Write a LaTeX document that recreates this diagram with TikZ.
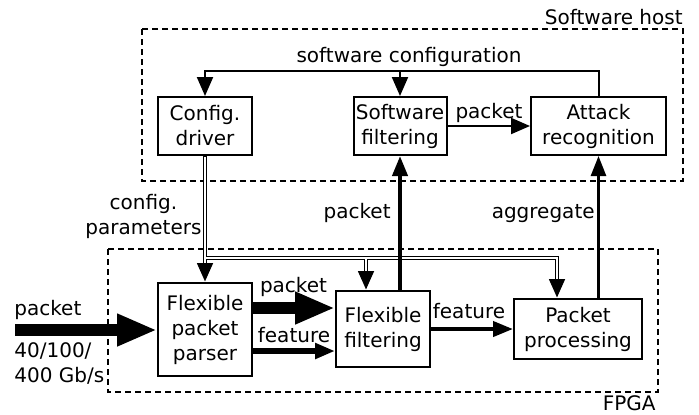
\documentclass[tikz,border=0pt]{standalone}
\usepackage{fontspec}
\setmainfont{DejaVu Sans}
\usetikzlibrary{arrows.meta, positioning}

\tikzset{
  block/.style={draw, line width=1pt, inner sep=1pt, align=center},
  areabox/.style={draw, line width=0.8pt, dash pattern=on 3pt off 2pt},
  lbl/.style={inner sep=0pt, anchor=base},
  flow/.style={line width=1pt, -{Triangle[length=9.5pt,width=8pt]}},
  widearrow/.style={line width=6pt, -{Triangle[length=20pt,width=15pt]}},
  midarrow/.style={line width=3pt, -{Triangle[length=10pt,width=7.5pt]}},
  boldarrow/.style={line width=2pt, -{Triangle[length=10pt,width=7.5pt]}},
  cfgouter/.style={line width=2.2pt, -{Triangle[length=9.5pt,width=7.5pt]}},
  cfginner/.style={line width=1.2pt, white, shorten >=9.5pt},
}

\begin{document}
\begin{tikzpicture}[x=0.5pt, y=-0.5pt, font=\fontsize{10}{12.5}\selectfont]
\useasboundingbox (0,0) rectangle (699,414);
% host and fpga areas
\draw[areabox] (142,29) rectangle (683,181);
\draw[areabox] (108,249) rectangle (658,392);
\node[lbl, anchor=base east] (hostlbl) at (683,24) {Software host};
\node[lbl, anchor=base east] (fpgalbl) at (656,410) {FPGA};
% software blocks
\node[block, minimum width=47pt, minimum height=29pt] (cfg) at (205,126) {Config.\\driver};
\node[block, minimum width=46.5pt, minimum height=29pt] (swf) at (400,126) {Software\\filtering};
\node[block, minimum width=67.5pt, minimum height=29pt] (att) at (598.5,126) {Attack\\recognition};
% hardware blocks
\node[block, minimum width=47pt, minimum height=46.5pt] (parser) at (205,329.5) {Flexible\\packet\\parser};
\node[block, minimum width=47pt, minimum height=38pt] (filt) at (383,329) {Flexible\\filtering};
\node[block, minimum width=64pt, minimum height=30pt] (proc) at (578,329) {Packet\\processing};
% configuration bus
\coordinate (cfgbus) at (400,71);
\draw[flow] (att.north) |- (cfgbus) -| (cfg.north);
\draw[flow] (cfgbus) -- (swf.north);
\node[lbl] (cfglbl) at (409,62) {software configuration};
% config parameters (double line)
\coordinate (split) at (205,258);
\coordinate (tofilt) at (366,258);
\coordinate (toproc) at (557,258);
\draw[cfgouter] (cfg.south) -- (parser.north);
\draw[cfgouter] (split) -- (toproc) -- (toproc |- proc.north);
\draw[cfgouter] (tofilt) -- (tofilt |- filt.north);
\draw[cfginner, shorten <=0.5pt] (cfg.south) -- (parser.north);
\draw[cfginner] (split) -- (toproc) -- (toproc |- proc.north);
\draw[cfginner] (tofilt) -- (tofilt |- filt.north);
\node[align=center, inner sep=0pt] (paramlbl) at (143.5,216) {config.\\parameters};
% data path
\coordinate (src) at (15,330);
\draw[widearrow] (src) -- (parser.west |- src);
\node[lbl, anchor=base west] (inlbl) at (14,315) {packet};
\node[align=left, inner sep=0pt, anchor=north west] (ratelbl) at (14,342) {40/100/\\400 Gb/s};
\draw[widearrow] (parser.east |- 0,308) -- (filt.west |- 0,308);
\node[lbl] (pktlbl) at (293.5,292) {packet};
\draw[midarrow] (parser.east |- 0,351) -- (filt.west |- 0,351);
\node[lbl] (featlbl) at (294,342) {feature};
\draw[boldarrow] (filt.east |- proc.west) -- (proc.west);
\node[lbl] (feat2lbl) at (469,318) {feature};
\draw[boldarrow] (swf.south |- filt.north) -- (swf.south);
\node[lbl, anchor=base east] (uplbl) at (391,218) {packet};
\draw[line width=1.3pt, -{Triangle[length=10pt,width=7.5pt]}] (att.south |- proc.north) -- (att.south);
\node[lbl, anchor=base east] (agglbl) at (595,218) {aggregate};
\draw[flow] (swf) -- (att);
\node[lbl] (swpktlbl) at (489,118) {packet};
\end{tikzpicture}
\end{document}
